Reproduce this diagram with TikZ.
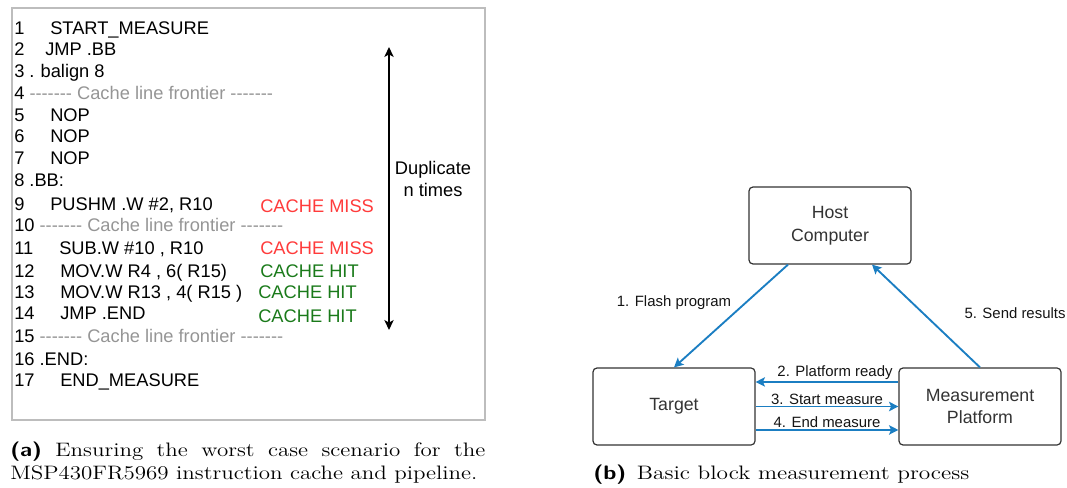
\documentclass[tikz,border=0pt]{standalone}
\usepackage{fontspec}
\newfontfamily\arial{Liberation Sans}
\usetikzlibrary{arrows.meta}
\definecolor{missred}{HTML}{FF3B3B}
\definecolor{hitgreen}{HTML}{1A7A1A}
\definecolor{frontgray}{HTML}{959595}
\definecolor{flowblue}{HTML}{1B7EC2}
\definecolor{boxgray}{HTML}{333333}
\definecolor{panelgray}{HTML}{BDBDBD}
\newcommand{\sevendash}{{-}{-}{-}{-}{-}{-}{-}}
\begin{document}
\begin{tikzpicture}[x=0.75pt,y=-0.75pt,
  code/.style={anchor=base west,inner sep=0pt,font=\arial\fontsize{13.7}{15}\selectfont},
  miss/.style={code,text=missred},
  hit/.style={code,text=hitgreen},
  dup/.style={anchor=base,inner sep=0pt,font=\arial\fontsize{13.7}{15}\selectfont},
  block/.style={draw=boxgray,line width=0.9pt,rounded corners=3pt,minimum width=121.5pt,minimum height=57.75pt,align=center,text=boxgray,font=\arial\fontsize{13.3}{17}\selectfont},
  flow/.style={draw=flowblue,line width=1.4pt,-{Stealth[length=7pt,width=7pt,inset=1.5pt]}},
  elabel/.style={inner sep=1pt,text=black!92,font=\arial\fontsize{11.2}{13}\selectfont},
  captext/.style={anchor=base west,inner sep=0pt,font=\fontsize{14.6}{17.5}\selectfont}
]
\useasboundingbox (0,0) rectangle (1067,488);

% ---------- left panel ----------
\draw[panelgray,line width=1.1pt] (12,8) rectangle (485,420);

\node[code] (n1) at (14,35) {1};   \node[code] (i1) at (50,35) {START\_MEASURE};
\node[code] (n2) at (14,56) {2};   \node[code] (i2) at (45,56) {JMP .BB};
\node[code] (n3) at (14,78) {3 .\hspace{-0.5pt} balign 8};
\node[code] (n4) at (14,100) {4 \textcolor{frontgray}{\sevendash{} Cache line frontier \sevendash}};
\node[code] (n5) at (14,122) {5};  \node[code] (i5) at (50,122) {NOP};
\node[code] (n6) at (14,143) {6};  \node[code] (i6) at (50,143) {NOP};
\node[code] (n7) at (14,165) {7};  \node[code] (i7) at (50,165) {NOP};
\node[code] (n8) at (14,187) {8 .BB:};
\node[code] (n9) at (14,211) {9};  \node[code] (i9) at (50,211) {PUSHM .W \#2, R10};
\node[code] (n10) at (14,232) {10 \textcolor{frontgray}{\sevendash{} Cache line frontier \sevendash}};
\node[code] (n11) at (14,255) {11}; \node[code] (i11) at (59,255) {SUB.W \#10 , R10};
\node[code] (n12) at (14,277) {12}; \node[code] (i12) at (60,277) {MOV.W R4 , 6( R15)};
\node[code] (n13) at (14,299) {13}; \node[code] (i13) at (60,299) {MOV.W R13 , 4( R15 )};
\node[code] (n14) at (14,320) {14}; \node[code] (i14) at (60,320) {JMP .END};
\node[code] (n15) at (14,342) {15 \textcolor{frontgray}{\sevendash{} Cache line frontier \sevendash}};
\node[code] (n16) at (14,365) {16 .END:};
\node[code] (n17) at (14,386) {17}; \node[code] (i17) at (60,386) {END\_MEASURE};

\node[miss] (c9)  at (260,213) {CACHE MISS};
\node[miss] (c11) at (260,255) {CACHE MISS};
\node[hit]  (c12) at (260,277) {CACHE HIT};
\node[hit]  (c13) at (258,299) {CACHE HIT};
\node[hit]  (c14) at (258,322) {CACHE HIT};

\coordinate (dtop) at (389,47);
\coordinate (dbot) at (389,330);
\draw[black,line width=1.1pt,{Stealth[length=7.5pt,width=7pt,inset=2pt]}-{Stealth[length=7.5pt,width=7pt,inset=2pt]}] (dtop) -- (dbot);
\node[dup] (dup1) at (433,175) {Duplicate};
\node[dup] (dup2) at (433,197) {n times};

\node[captext] (capa) at (10,456) {\scalebox{1.18}[1]{\parbox[t]{302pt}{\textsf{\textbf{(a)}} Ensuring the worst case scenario for the\linebreak MSP430FR5969 instruction cache and pipeline.}}};

% ---------- right panel ----------
\node[block] (host) at (830,225.5) {Host\\Computer};
\node[block] (target) at (674,406.5) {Target};
\node[block] (meas) at (980,406.5) {Measurement\\Platform};

\draw[flow] ([xshift=-31.5pt]host.south) -- (target.north);
\draw[flow] (meas.north) -- ([xshift=31.5pt]host.south);
\node[elabel] (l1) at (674,303) {1. Flash program};
\node[elabel] (l5) at (1015,313) {5. Send results};

\draw[flow] ([yshift=18.4pt]meas.west) -- node[elabel,above,xshift=6pt] (l2) {2. Platform ready} ([yshift=18.4pt]target.east);
\draw[flow] ([yshift=0pt]target.east) -- node[elabel,above] (l3) {3. Start measure} ([yshift=0pt]meas.west);
\draw[flow] ([yshift=-17.6pt]target.east) -- node[elabel,above] (l4) {4. End measure} ([yshift=-17.6pt]meas.west);

\node[captext] (capb) at (593,479) {\scalebox{1.2}[1]{\textsf{\textbf{(b)}}\hspace{0.45em}Basic block measurement process}};
\end{tikzpicture}
\end{document}
